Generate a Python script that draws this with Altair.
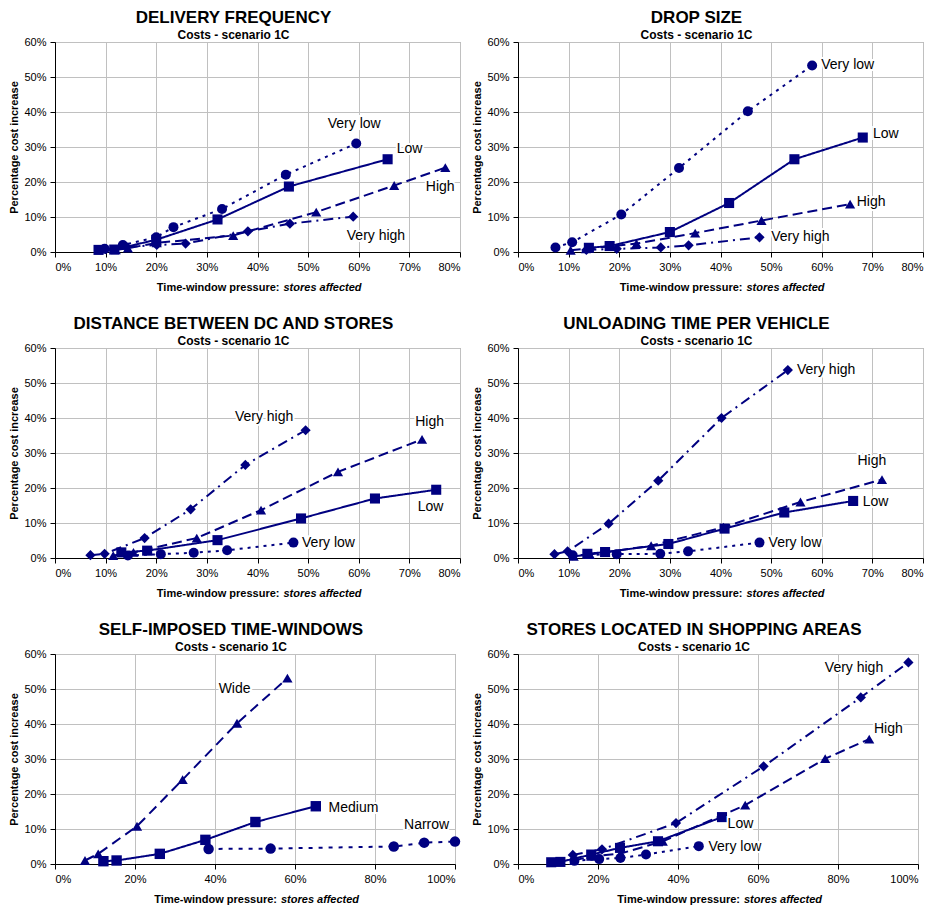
import altair as alt
import pandas as pd

NAVY = "#000080"
FONT = "Liberation Sans"
SUB = "Costs - scenario 1C"

# ---------------- data (x = % stores affected, y = % cost increase) ----------------
# Panel 1: DELIVERY FREQUENCY
p1_vlow_x = [9.8, 13.4, 20.0, 23.4, 33.0, 45.6, 59.5]
p1_vlow_y = [0.9, 2.0, 4.2, 7.1, 12.3, 22.1, 31.0]
p1_low_x = [8.6, 11.7, 20.0, 32.1, 46.2, 65.7]
p1_low_y = [0.6, 0.7, 3.5, 9.3, 18.7, 26.5]
p1_high_x = [12.0, 14.4, 20.1, 35.2, 51.6, 67.0, 77.1]
p1_high_y = [0.6, 1.1, 2.6, 4.7, 11.4, 19.0, 24.1]
p1_vhigh_x = [10.0, 14.2, 20.1, 25.8, 38.1, 46.4, 58.9]
p1_vhigh_y = [0.8, 1.4, 2.0, 2.4, 5.9, 8.1, 10.1]

# Panel 2: DROP SIZE
p2_vlow_x = [7.4, 10.7, 20.4, 31.8, 45.4, 58.1]
p2_vlow_y = [1.3, 2.8, 10.7, 24.0, 40.2, 53.3]
p2_low_x = [14.0, 18.1, 30.0, 41.7, 54.6, 68.1]
p2_low_y = [1.2, 1.7, 5.7, 14.0, 26.5, 32.7]
p2_high_x = [10.4, 13.4, 23.4, 35.0, 48.1, 65.6]
p2_high_y = [0.5, 0.9, 2.4, 5.4, 9.0, 13.7]
p2_vhigh_x = [13.5, 19.5, 28.2, 33.7, 47.7]
p2_vhigh_y = [0.6, 0.9, 1.3, 1.9, 4.2]

# Panel 3: DISTANCE BETWEEN DC AND STORES
p3_vhigh_x = [7.0, 9.8, 17.7, 26.8, 37.6, 49.5]
p3_vhigh_y = [0.8, 1.2, 5.7, 13.9, 26.6, 36.5]
p3_high_x = [11.5, 15.5, 28.0, 40.7, 55.9, 72.5]
p3_high_y = [0.7, 1.6, 5.7, 13.7, 24.6, 33.9]
p3_low_x = [13.1, 18.2, 32.1, 48.6, 63.2, 75.3]
p3_low_y = [1.6, 2.1, 5.1, 11.3, 17.0, 19.5]
p3_vlow_x = [14.4, 20.9, 27.4, 34.0, 47.1]
p3_vlow_y = [0.7, 1.1, 1.5, 2.2, 4.4]

# Panel 4: UNLOADING TIME PER VEHICLE
p4_vhigh_x = [7.2, 9.8, 17.9, 27.7, 40.2, 53.3]
p4_vhigh_y = [1.1, 1.9, 9.8, 22.1, 40.0, 53.7]
p4_high_x = [11.0, 14.2, 26.3, 40.6, 55.8, 71.9]
p4_high_y = [0.5, 1.0, 3.5, 8.8, 16.0, 22.4]
p4_low_x = [13.7, 17.2, 29.7, 40.8, 52.6, 66.2]
p4_low_y = [1.2, 1.7, 4.0, 8.4, 13.0, 16.3]
p4_vlow_x = [10.8, 19.5, 28.1, 33.6, 47.7]
p4_vlow_y = [0.8, 1.1, 1.2, 1.9, 4.4]

# Panel 5: SELF-IMPOSED TIME-WINDOWS
p5_wide_x = [7.5, 10.8, 20.5, 31.9, 45.5, 58.1]
p5_wide_y = [1.0, 2.9, 10.8, 24.1, 40.2, 53.1]
p5_medium_x = [12.1, 15.4, 26.2, 37.6, 50.1, 65.2]
p5_medium_y = [0.8, 1.0, 2.9, 6.9, 12.0, 16.5]
p5_narrow_x = [38.4, 53.9, 84.7, 92.3, 100.0]
p5_narrow_y = [4.3, 4.4, 5.0, 6.1, 6.4]

# Panel 6: STORES LOCATED IN SHOPPING AREAS
p6_vhigh_x = [13.7, 21.0, 39.5, 61.4, 85.7, 97.6]
p6_vhigh_y = [2.6, 4.2, 11.7, 27.9, 47.6, 57.6]
p6_high_x = [14.0, 18.3, 25.7, 36.2, 56.8, 76.8, 87.8]
p6_high_y = [1.0, 2.2, 3.0, 6.5, 16.8, 30.1, 35.7]
p6_low_x = [8.3, 10.6, 18.3, 25.5, 35.0, 51.0]
p6_low_y = [0.5, 0.6, 2.7, 4.6, 6.5, 13.4]
p6_vlow_x = [14.1, 20.3, 25.6, 32.0, 45.2]
p6_vlow_y = [0.9, 1.4, 1.7, 2.7, 5.1]

# series labels: (text, x, y, align)
p1_labels = [("Very low", 59.1, 36.7, "center"), ("Low", 67.5, 29.4, "left"),
             ("High", 76.1, 18.6, "center"), ("Very high", 63.4, 4.5, "center")]
p2_labels = [("Very low", 59.9, 53.3, "left"), ("Low", 70.1, 33.7, "left"),
             ("High", 66.9, 14.2, "left"), ("Very high", 50.0, 4.2, "left")]
p3_labels = [("Very high", 41.3, 40.3, "center"), ("High", 74.0, 38.9, "center"),
             ("Low", 74.2, 14.6, "center"), ("Very low", 48.8, 4.4, "left")]
p4_labels = [("Very high", 55.1, 53.6, "left"), ("High", 69.9, 27.6, "center"),
             ("Low", 68.1, 16.1, "left"), ("Very low", 49.5, 4.4, "left")]
p5_labels = [("Wide", 44.9, 50.1, "center"), ("Medium", 68.4, 16.0, "left"),
             ("Narrow", 92.9, 11.2, "center")]
p6_labels = [("Very high", 84.0, 55.9, "center"), ("High", 89.0, 38.6, "left"),
             ("Low", 52.4, 11.4, "left"), ("Very low", 47.6, 5.0, "left")]

# ---------------- styles ----------------
SERIES = ["Very low", "Low", "High", "Very high", "Wide", "Medium", "Narrow"]
SHAPES = ["circle", "square", "triangle-up", "diamond", "triangle-up", "square", "circle"]
DASHES = [[3, 5], [1, 0], [10, 5], [10, 5, 2, 5], [10, 6], [1, 0], [4, 6]]
SIZES = [100, 110, 100, 70, 100, 110, 100]


def panel(title, series, labels, xmax, xstep, width, height=210):
    rows = []
    for name, xs, ys in series:
        for xv, yv in zip(xs, ys):
            rows.append({"series": name, "x": xv, "y": yv})
    df = pd.DataFrame(rows)
    ldf = pd.DataFrame(labels, columns=["text", "x", "y", "align"])

    xsc = alt.Scale(domain=[0, xmax], nice=False)
    ysc = alt.Scale(domain=[0, 60], nice=False)
    xax = alt.Axis(values=list(range(0, xmax + 1, xstep)), labelExpr="datum.value + '%'",
                   title=None, labelPadding=4, labelOverlap=False)
    yax = alt.Axis(values=list(range(0, 61, 10)), labelExpr="datum.value + '%'",
                   title="Percentage cost increase", labelPadding=4, titlePadding=4,
                   labelOverlap=False)
    X = alt.X("x:Q", scale=xsc, axis=xax)
    Y = alt.Y("y:Q", scale=ysc, axis=yax)

    base = alt.Chart(df)
    lines = base.mark_line(color=NAVY, strokeWidth=2).encode(
        x=X, y=Y, detail="series:N",
        strokeDash=alt.StrokeDash("series:N", scale=alt.Scale(domain=SERIES, range=DASHES), legend=None),
    )
    points = base.mark_point(filled=True, color=NAVY, opacity=1).encode(
        x=X, y=Y,
        shape=alt.Shape("series:N", scale=alt.Scale(domain=SERIES, range=SHAPES), legend=None),
        size=alt.Size("series:N", scale=alt.Scale(domain=SERIES, range=SIZES), legend=None),
    )
    layers = [lines, points]
    lbase = alt.Chart(ldf)
    for al in ["left", "center"]:
        sub = lbase.transform_filter(alt.datum.align == al)
        layers.append(sub.mark_text(align=al, baseline="middle", font=FONT, fontSize=14,
                                    stroke="white", strokeWidth=4, color="white")
                      .encode(x=X, y=Y, text="text:N"))
        layers.append(sub.mark_text(align=al, baseline="middle", font=FONT, fontSize=14,
                                    color="black")
                      .encode(x=X, y=Y, text="text:N"))
    # x-axis title with mixed styles
    split = width / 2 + 24
    t1 = alt.Chart(pd.DataFrame({"t": ["Time-window pressure:"]})).mark_text(
        align="right", baseline="middle", font=FONT, fontSize=11, fontWeight="bold", color="black"
    ).encode(text="t:N", x=alt.value(split - 2), y=alt.value(height + 36))
    t2 = alt.Chart(pd.DataFrame({"t": ["stores affected"]})).mark_text(
        align="left", baseline="middle", font=FONT, fontSize=11, fontWeight="bold",
        fontStyle="italic", color="black"
    ).encode(text="t:N", x=alt.value(split + 2), y=alt.value(height + 36))
    layers += [t1, t2]

    return alt.layer(*layers).properties(
        width=width, height=height,
        title=alt.TitleParams(
            text=title, subtitle=SUB, font=FONT, fontSize=17, fontWeight="bold", color="black",
            subtitleFont=FONT, subtitleFontSize=12, subtitleFontWeight="bold", subtitleColor="black",
            anchor="middle", frame="group", dx=-24, offset=-6, subtitlePadding=3,
        ),
    )


c1 = panel("DELIVERY FREQUENCY",
           [("Very low", p1_vlow_x, p1_vlow_y), ("Low", p1_low_x, p1_low_y),
            ("High", p1_high_x, p1_high_y), ("Very high", p1_vhigh_x, p1_vhigh_y)],
           p1_labels, 80, 10, 405)
c2 = panel("DROP SIZE",
           [("Very low", p2_vlow_x, p2_vlow_y), ("Low", p2_low_x, p2_low_y),
            ("High", p2_high_x, p2_high_y), ("Very high", p2_vhigh_x, p2_vhigh_y)],
           p2_labels, 80, 10, 405)
c3 = panel("DISTANCE BETWEEN DC AND STORES",
           [("Very low", p3_vlow_x, p3_vlow_y), ("Low", p3_low_x, p3_low_y),
            ("High", p3_high_x, p3_high_y), ("Very high", p3_vhigh_x, p3_vhigh_y)],
           p3_labels, 80, 10, 405)
c4 = panel("UNLOADING TIME PER VEHICLE",
           [("Very low", p4_vlow_x, p4_vlow_y), ("Low", p4_low_x, p4_low_y),
            ("High", p4_high_x, p4_high_y), ("Very high", p4_vhigh_x, p4_vhigh_y)],
           p4_labels, 80, 10, 405)
c5 = panel("SELF-IMPOSED TIME-WINDOWS",
           [("Wide", p5_wide_x, p5_wide_y), ("Medium", p5_medium_x, p5_medium_y),
            ("Narrow", p5_narrow_x, p5_narrow_y)],
           p5_labels, 100, 20, 400)
c6 = panel("STORES LOCATED IN SHOPPING AREAS",
           [("Very low", p6_vlow_x, p6_vlow_y), ("Low", p6_low_x, p6_low_y),
            ("High", p6_high_x, p6_high_y), ("Very high", p6_vhigh_x, p6_vhigh_y)],
           p6_labels, 100, 20, 400)

chart = alt.vconcat(
    alt.hconcat(c1, c2, spacing=10),
    alt.hconcat(c3, c4, spacing=10),
    alt.hconcat(c5, c6, spacing=10),
    spacing=20,
).properties(
    padding={"left": 0, "top": 0, "right": 0, "bottom": 0}
).configure_view(
    stroke="#909090", strokeWidth=1
).configure_axis(
    labelFont=FONT, labelFontSize=11, labelColor="black",
    titleFont=FONT, titleFontSize=11, titleFontWeight="bold", titleColor="black",
    domainColor="black", domainWidth=1, tickColor="black", tickSize=5,
    gridColor="#c0c0c0", gridWidth=1,
).configure_text(font=FONT)

chart.save("out.html", embed_options={"renderer": "svg", "actions": False})
